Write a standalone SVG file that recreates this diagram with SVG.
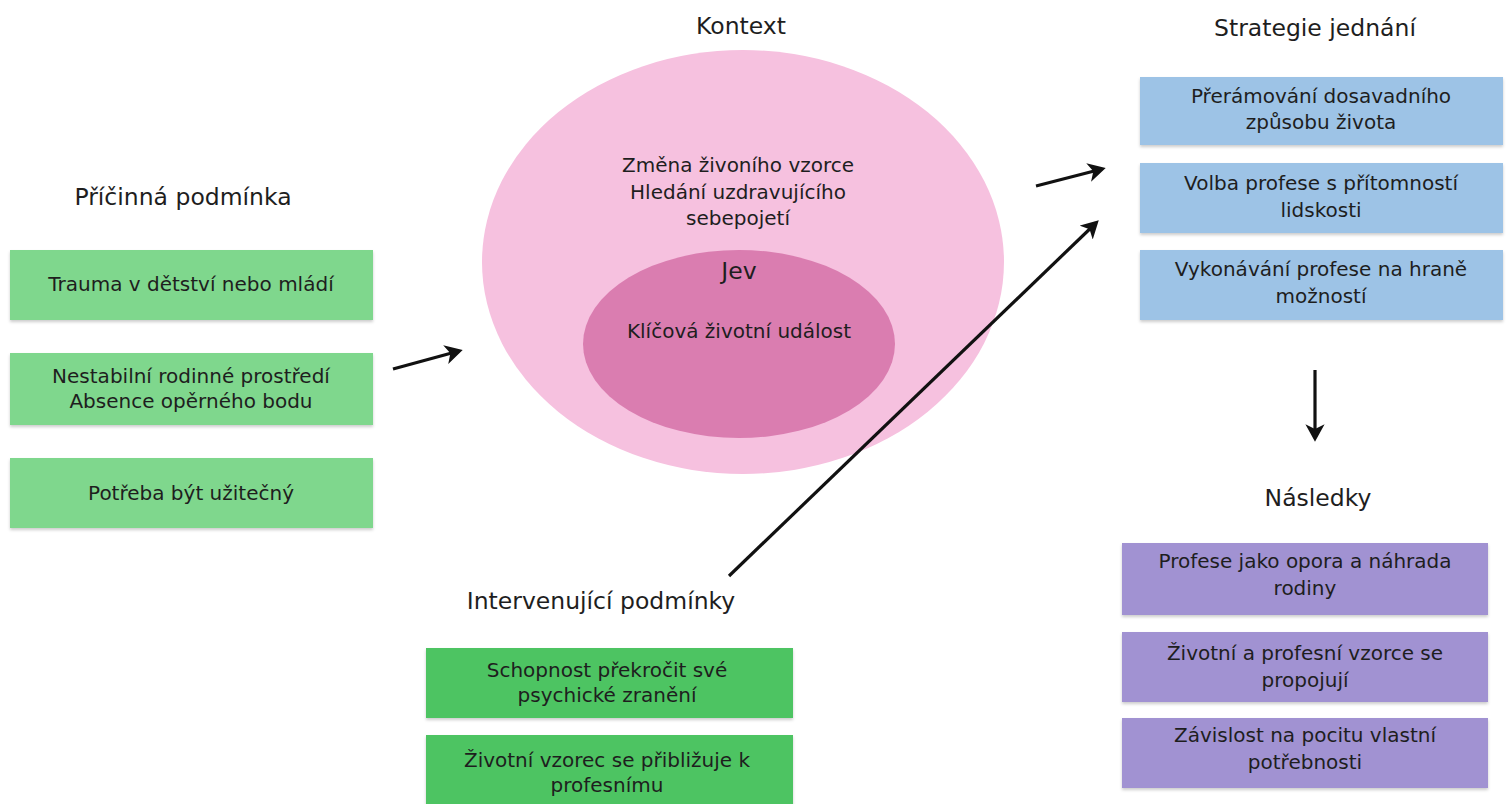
<svg xmlns="http://www.w3.org/2000/svg" width="1511" height="804" viewBox="0 0 1511 804">
<style>
.title{font-family:"DejaVu Sans","Liberation Sans",sans-serif;font-size:23.5px;fill:#1e1e1e;text-anchor:middle}
.t{font-family:"DejaVu Sans","Liberation Sans",sans-serif;font-size:20px;fill:#1e1e1e;text-anchor:middle}
.g1{fill:#7fd78d}
.g2{fill:#4dc462}
.bl{fill:#9dc3e6}
.pu{fill:#a192d2}
.conn{stroke:#111;stroke-width:3.2;fill:none;marker-end:url(#ah)}
</style>
<defs>
<marker id="ah" markerWidth="7" markerHeight="7" refX="4.3" refY="3" orient="auto" markerUnits="strokeWidth">
<path d="M0,0 L5.5,3 L0,6 L1.5,3 z" fill="#111"/>
</marker>
<filter id="sh" x="-5%" y="-10%" width="110%" height="130%">
<feDropShadow dx="0" dy="2" stdDeviation="1.5" flood-color="#000" flood-opacity="0.2"/>
</filter>
</defs>
<rect width="1511" height="804" fill="#fff"/>

<g id="kontext">
<text class="title" x="741" y="34">Kontext</text>
<ellipse cx="743" cy="262" rx="261" ry="212" fill="#f6c1df"/>
<text class="t" x="738" y="172">Změna živoního vzorce</text>
<text class="t" x="738" y="199">Hledání uzdravujícího</text>
<text class="t" x="738" y="225">sebepojetí</text>
</g>
<g id="jev">
<ellipse cx="739" cy="344" rx="156" ry="94" fill="#da7db0"/>
<text class="title" x="739" y="279">Jev</text>
<text class="t" x="739" y="338">Klíčová životní událost</text>
</g>

<g id="pricinna">
<text class="title" x="183" y="205">Příčinná podmínka</text>
<g filter="url(#sh)">
<rect class="g1" x="10" y="250" width="363" height="70"/>
<rect class="g1" x="10" y="353" width="363" height="72"/>
<rect class="g1" x="10" y="458" width="363" height="70"/>
</g>
<text class="t" x="191" y="291">Trauma v dětství nebo mládí</text>
<text class="t" x="191" y="383">Nestabilní rodinné prostředí</text>
<text class="t" x="191" y="408">Absence opěrného bodu</text>
<text class="t" x="191" y="500">Potřeba být užitečný</text>
</g>

<g id="intervenujici">
<text class="title" x="601" y="609">Intervenující podmínky</text>
<g filter="url(#sh)">
<rect class="g2" x="426" y="648" width="367" height="70"/>
<rect class="g2" x="426" y="735" width="367" height="75"/>
</g>
<text class="t" x="607" y="677">Schopnost překročit své</text>
<text class="t" x="607" y="702">psychické zranění</text>
<text class="t" x="607" y="767">Životní vzorec se přibližuje k</text>
<text class="t" x="607" y="792">profesnímu</text>
</g>

<g id="strategie">
<text class="title" x="1315" y="36">Strategie jednání</text>
<g filter="url(#sh)">
<rect class="bl" x="1140" y="77" width="363" height="68"/>
<rect class="bl" x="1140" y="163" width="363" height="70"/>
<rect class="bl" x="1140" y="250" width="363" height="70"/>
</g>
<text class="t" x="1321" y="103">Přerámování dosavadního</text>
<text class="t" x="1321" y="129">způsobu života</text>
<text class="t" x="1321" y="190">Volba profese s přítomností</text>
<text class="t" x="1321" y="217">lidskosti</text>
<text class="t" x="1321" y="276">Vykonávání profese na hraně</text>
<text class="t" x="1321" y="303">možností</text>
</g>

<g id="nasledky">
<text class="title" x="1318" y="506">Následky</text>
<g filter="url(#sh)">
<rect class="pu" x="1122" y="543" width="366" height="72"/>
<rect class="pu" x="1122" y="632" width="366" height="70"/>
<rect class="pu" x="1122" y="718" width="366" height="70"/>
</g>
<text class="t" x="1305" y="568">Profese jako opora a náhrada</text>
<text class="t" x="1305" y="595">rodiny</text>
<text class="t" x="1305" y="660">Životní a profesní vzorce se</text>
<text class="t" x="1305" y="687">propojují</text>
<text class="t" x="1305" y="742">Závislost na pocitu vlastní</text>
<text class="t" x="1305" y="769">potřebnosti</text>
</g>

<g id="connectors">
<line class="conn" x1="393" y1="369" x2="459" y2="351"/>
<line class="conn" x1="1036" y1="186" x2="1102" y2="169"/>
<line class="conn" x1="729" y1="576" x2="1096" y2="223"/>
<line class="conn" x1="1315" y1="370" x2="1315" y2="438"/>
</g>
</svg>
